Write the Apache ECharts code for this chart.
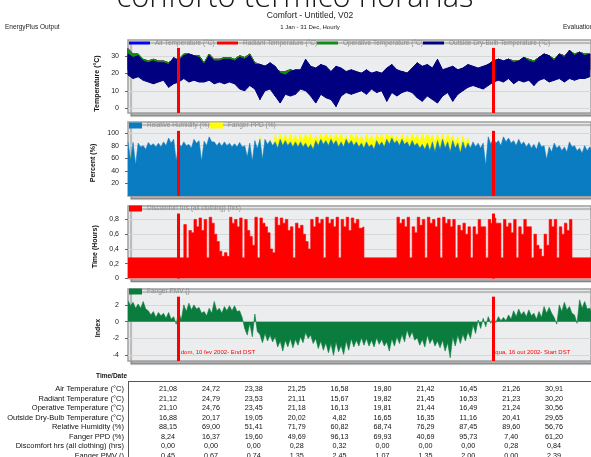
<!DOCTYPE html>
<html><head><meta charset="utf-8">
<script src="https://cdn.jsdelivr.net/npm/echarts@6/dist/echarts.min.js"></script>
<style>html,body{margin:0;padding:0;background:#fff;overflow:hidden}#c{width:591px;height:457px}</style>
</head><body><div id="c"></div>
<script>
// ---- data (4-day bins) ----
const binDays = 4;
const dstDays = [40, 288];
const dstLabels = ['dom, 10 fev 2002- End DST', 'qua, 16 out 2002- Start DST'];

// temperature bands: bin maximum / minimum (°C)
const tempOutHi = [31,29,30,27,26,27,26,26,25,29, 27,30,31,30,29,25,30,27,27,28, 28,27,29,28,30,25,25,24,26,24,
  20,19,21,22,22,28,24,23,25,24, 21,24,23,21,22,21,20,22,20,21, 20,23,25,22,21,20,23,26,24,25,
  23,28,22,23,24,22,23,25,24,23, 24,25,27,28,27,28,26,27,29,27, 26,29,31,30,27,31,29,33,30,32, 30,31];
const tempOutLo = [19,17,18,16,15,14,15,16,12,14, 15,17,15,16,15,15,16,14,15,14, 15,14,11,10,13,11,5,10,11,7,
  3,8,7,8,11,10,7,3,8,6, 5,1,7,9,8,9,10,8,11,9, 10,4,9,7,9,10,9,6,4,7,
  5,3,7,9,4,8,10,12,13,12, 11,13,15,16,15,17,14,16,15,16, 13,16,17,15,16,17,15,17,16,17, 17,18];
const tempOpHi = [34,31,31,28,27,28,27,27,26,28, 28,31,31,30,30,26,31,28,28,29, 29,28,30,29,31,26,25,24,25,22,
  21,21,22,21,21,23,22,21,22,21, 20,21,21,20,21,20,20,21,20,20, 20,22,23,21,21,20,22,23,22,23,
  22,24,21,22,22,22,22,23,23,22, 23,25,27,28,27,28,27,27,29,28, 27,29,31,30,28,31,30,33,31,32, 31,31];
const tempOpLo = [22,21,21,20,20,19,20,20,19,20, 20,21,21,21,21,20,21,20,20,20, 20,20,19,18,18,17,16,16,16,15,
  14,15,15,15,15,15,14,13,14,14, 13,12,14,15,14,15,15,14,15,15, 15,13,14,14,15,15,15,14,13,14,
  13,13,14,15,13,14,15,16,17,17, 16,17,19,20,20,21,20,20,21,20, 20,21,22,21,21,22,21,22,21,22, 22,22];

// relative humidity / PPD: crest and trough of the upper edge in each bin (%)
const rhHi = [86,85,84,80,85,83,84,86,92,90, 84,86,82,90,88,87,94,86,85,86, 84,83,85,80,84,88,90,90,88,86, 90,88,86,86,
  86,84,82,88,90,88,90,88,86,90, 88,86,84,86,82,88,86,90,92,88, 90,86,88,84,82,84,86,88,90,86, 88,84,86,84,
  86,84,84,94,92,88,94,92,88,90, 86,84,82,86,80,78,84,80,78,86, 80,76,80,78];
const rhLo = [57,49,78,74,80,78,78,80,84,55, 78,80,76,84,55,80,86,80,79,80, 78,78,78,62,55,75,58,82,80,76, 80,80,78,78,
  78,76,74,80,82,80,82,78,78,82, 80,78,76,78,74,80,78,82,84,80, 82,78,80,76,74,72,70,74,76,70, 76,68,74,76,
  78,76,48,82,84,80,86,84,80,82, 78,76,74,78,58,70,76,72,70,78, 72,68,72,70];
const ppdHi = [80,35,30,25,30,28,30,35,40,45, 30,25,28,30,35,40,30,25,35,30, 28,40,50,70,78,60,95,80,90,99, 100,98,99,97,
  98,99,100,97,99,100,98,100,99,97, 100,98,96,99,97,98,99,100,98,96, 99,97,100,98,99,100,97,99,98,100, 97,95,96,92,
  60,50,40,30,25,25,30,28,30,35, 30,35,40,38,45,76,50,55,50,60, 55,58,55,50];
const ppdLo = [60,10,8,8,9,8,10,12,10,15, 9,8,8,9,12,14,9,8,10,9, 8,12,15,35,40,30,50,45,60,85, 88,86,88,86,
  88,90,86,88,90,92,88,90,88,86, 90,88,84,88,86,90,88,92,90,86, 88,86,90,86,88,90,85,86,84,88, 82,80,82,76,
  30,20,12,10,8,8,9,8,10,12, 9,10,12,11,14,30,15,18,15,20, 16,18,15,14];

// discomfort hours: crest and trough in each bin (hrs)
const discHi = [0.28,0.28,0.28,0.28,0.28,0.28,0.28,0.28,0.28,0.28,0.28,
  0.73,0.65,0.8,0.82,0.8,0.83,0.6,0.37,0.35,0.83, 0.8,0.82,0.8,0.57,0.83,0.82,0.7,0.4,0.83,0.82,
  0.8,0.7,0.75,0.72,0.5,0.8,0.83,0.8,0.83,0.8, 0.83,0.8,0.83,0.82,0.8,0.7,
  0.28,0.28,0.28,0.28,0.28,0.28,
  0.83,0.8,0.83,0.7,0.83,0.8,0.83,0.8,0.82,0.83, 0.8,0.8,0.72,0.75,0.7,0.7,0.8,0.7,0.8,0.82,
  0.75,0.8,0.75,0.8,0.7,0.8,0.7,0.6,0.4,0.6, 0.8,0.8,0.7,0.75,0.8,
  0.28,0.28,0.28,0.28];
const discLo = [0.28,0.28,0.28,0.28,0.28,0.28,0.28,0.28,0.28,0.28,0.28,
  0.28,0.62,0.7,0.65,0.28,0.75,0.5,0.3,0.3,0.75, 0.7,0.28,0.65,0.45,0.28,0.75,0.62,0.35,0.72,0.75,
  0.65,0.28,0.68,0.6,0.4,0.7,0.75,0.28,0.75,0.7, 0.28,0.7,0.65,0.75,0.68,0.28,
  0.28,0.28,0.28,0.28,0.28,0.28,
  0.75,0.7,0.28,0.62,0.72,0.28,0.75,0.7,0.28,0.75, 0.7,0.28,0.65,0.6,0.28,0.6,0.7,0.28,0.75,0.75,
  0.28,0.7,0.62,0.28,0.6,0.7,0.28,0.45,0.3,0.45, 0.7,0.28,0.6,0.65,0.28,
  0.28,0.28,0.28,0.28];

// Fanger PMV: crest and trough of the outer edge in each bin
const pmvHi = [2.5,2.3,2.1,2.4,1.3,1.2,1.1,1.0,1.1,0.6, 1.2,2.0,2.2,2.0,1.7,1.2,1.6,2.4,1.6,1.8,
  1.9,1.9,1.3,-0.8,-0.2,0.9,-1.5,-1.4,-1.6,-1.8, -2.3,-2.2,-2.0,-2.1,
  -1.8,-1.3,-1.6,-2.0,-2.3,-2.5,-2.6,-2.4,-2.8,-2.3, -2.0,-2.2,-1.9,-2.0,-2.2,-1.9,-2.1,-2.4,-2.0,-1.8,
  -1.5,-1.0,-1.2,-1.9,-2.1,-1.6,-2.0,-2.3,-2.2,-2.5, -1.8,-1.6,-1.5,-1.2,-0.4,0.2,0.4,0.6,0.5,0.6,
  0.5,0.8,1.3,1.5,1.2,1.4,1.0,1.2,1.8,1.7, 0.5,2.0,2.3,1.8,0.8,2.6,2.4,1.6];
const pmvLo = [1.9,1.6,1.6,1.5,0.8,0.5,0.7,0.4,0.3,-0.3, 0.2,1.2,1.4,1.5,1.0,0.7,1.0,1.3,1.0,1.3,
  1.3,1.2,0.5,-1.6,-1.8,-1.2,-2.5,-2.3,-2.4,-3.0, -3.5,-3.0,-3.1,-2.8,
  -2.5,-2.0,-2.6,-3.2,-3.4,-3.7,-4.0,-3.6,-3.9,-3.4, -3.0,-2.9,-2.8,-2.9,-3.0,-2.7,-2.9,-3.5,-2.9,-2.6,
  -2.4,-1.9,-2.2,-2.8,-3.0,-2.6,-2.9,-3.1,-3.5,-4.3, -2.9,-2.6,-2.3,-2.0,-1.4,-0.8,-0.6,-0.2,-0.1,0.1,
  0.1,0.3,0.6,0.8,0.6,0.7,0.3,0.5,1.0,1.0, -0.3,1.2,1.4,1.0,-0.2,1.6,1.5,0.9];

const yTicks1 = [0,10,20,30];
const yTicks2 = [20,40,60,80,100];
const yTicks3 = [0,0.2,0.4,0.6,0.8];
const yTicks4 = [-4,-2,0,2];

const tableRowLabels = ['Air Temperature (°C)','Radiant Temperature (°C)','Operative Temperature (°C)',
  'Outside Dry-Bulb Temperature (°C)','Relative Humidity (%)','Fanger PPD (%)',
  'Discomfort hrs (all clothing) (hrs)','Fanger PMV ()'];
const tableValues = [
  ['21,08','24,72','23,38','21,25','16,58','19,80','21,42','16,45','21,26','30,91'],
  ['21,12','24,79','23,53','21,11','15,67','19,82','21,45','16,53','21,23','30,20'],
  ['21,10','24,76','23,45','21,18','16,13','19,81','21,44','16,49','21,24','30,56'],
  ['16,88','20,17','19,05','20,02','4,82','16,65','16,35','11,16','20,41','29,65'],
  ['88,15','69,00','51,41','71,79','60,82','68,74','76,29','87,45','89,60','56,76'],
  ['8,24','16,37','19,60','49,69','96,13','69,93','40,69','95,73','7,40','61,20'],
  ['0,00','0,00','0,00','0,28','0,32','0,00','0,00','0,00','0,28','0,84'],
  ['0,45','0,67','0,74','1,35','2,45','1,07','1,35','2,00','0,00','2,39']
];

// ---- helpers ----
function zigzag(hi, lo) {
  const pts = [];
  for (let i = 0; i < hi.length; i++) {
    pts.push([i * binDays, hi[i]]);
    pts.push([i * binDays + binDays / 2, lo[i]]);
  }
  return pts;
}
const FONT = '"Liberation Sans", Arial, sans-serif';

const panels = [
  {top: 40, height: 73, min: -2.7, max: 39, ticks: yTicks1, name: 'Temperature (°C)', pad: 14, dstTop: 34.5},
  {top: 122, height: 74, min: 0, max: 117.6, ticks: yTicks2, name: 'Percent (%)', pad: 8, dstTop: 103.5},
  {top: 206, height: 72.5, min: 0, max: 0.982, ticks: yTicks3, name: 'Time (Hours)', pad: 9, dstTop: 0.88},
  {top: 289, height: 72, min: -4.68, max: 3.89, ticks: yTicks4, name: 'Index', pad: 6, dstTop: 2.98}
];

const grid = panels.map(p => ({
  left: 128, width: 468, top: p.top, height: p.height, show: true,
  backgroundColor: '#ecedee', borderColor: '#9e9e9e', borderWidth: 1.5,
  shadowColor: 'rgba(0,0,0,0.3)', shadowBlur: 1, shadowOffsetX: 3, shadowOffsetY: 3
}));
const xAxis = panels.map((p, k) => ({gridIndex: k, type: 'value', min: 0, max: 365, show: false}));
const yAxis = panels.map((p, k) => ({
  gridIndex: k, type: 'value', min: p.min, max: p.max,
  name: p.name, nameLocation: 'middle', nameGap: 21,
  nameTextStyle: {fontSize: 7, fontWeight: 'bold', color: '#111', fontFamily: FONT, padding: [0, p.pad, 0, 0]},
  axisLine: {show: false},
  axisTick: {show: true, inside: false, length: 3, customValues: p.ticks, lineStyle: {color: '#666', width: 1}},
  axisLabel: {
    customValues: p.ticks, fontSize: 7, color: '#222', fontFamily: FONT, margin: 9,
    formatter: v => p.ticks.some(t => Math.abs(t - v) < 1e-6) ? String(+(+v).toFixed(2)).replace('.', ',') : ''
  },
  splitLine: {show: true, lineStyle: {color: '#d6d8d8', width: 1}}
}));

// band between bin minimum and bin maximum, drawn as quads through the axes' scales
function band(name, k, hi, lo, color, z) {
  const rows = [];
  for (let i = 0; i < hi.length - 1; i++) {
    rows.push([i * binDays, lo[i], hi[i], (i + 1) * binDays, lo[i + 1], hi[i + 1]]);
  }
  return {
    name, type: 'custom', xAxisIndex: k, yAxisIndex: k, data: rows, silent: true, z,
    encode: {x: [0, 3], y: [1, 2, 4, 5]},
    itemStyle: {color},
    renderItem: (params, api) => {
      const a = api.coord([api.value(0), api.value(2)]);
      const b = api.coord([api.value(3), api.value(5)]);
      const c = api.coord([api.value(3), api.value(4)]);
      const d = api.coord([api.value(0), api.value(1)]);
      return {type: 'polygon', shape: {points: [a, b, c, d]},
        style: {fill: color, stroke: color, lineWidth: 1}};
    }
  };
}
function areaSeries(name, k, data, color, z, extra) {
  return Object.assign({
    name, type: 'line', xAxisIndex: k, yAxisIndex: k, data, symbol: 'none', showSymbol: false, silent: true, z,
    lineStyle: {color, width: 0.6}, itemStyle: {color}, areaStyle: {color, opacity: 1}
  }, extra || {});
}

const series = [
  band('Air Temperature (°C)', 0, tempOpHi, tempOpLo, '#0000ff', 1),
  band('Radiant Temperature (°C)', 0, tempOpHi, tempOpLo, '#ff0000', 1.5),
  band('Operative Temperature (°C)', 0, tempOpHi, tempOpLo, '#128c16', 2),
  band('Outside Dry-Bulb Temperature (°C)', 0, tempOutHi, tempOutLo, '#000080', 3),
  areaSeries('Fanger PPD (%)', 1, zigzag(ppdHi, ppdLo), '#ffff00', 1),
  areaSeries('Relative Humidity (%)', 1, zigzag(rhHi, rhLo), '#0a7cc1', 2),
  areaSeries('Discomfort hrs (all clothing) (hrs)', 2, zigzag(discHi, discLo), '#ff0000', 2, {step: 'end'}),
  areaSeries('Fanger PMV ()', 3, zigzag(pmvHi, pmvLo), '#0a7d3e', 2)
];
panels.forEach((p, k) => {
  const s = {
    type: 'line', xAxisIndex: k, yAxisIndex: k, data: [], z: 5, silent: true,
    markLine: {
      symbol: 'none', silent: true, animation: false, label: {show: false},
      lineStyle: {color: '#ff0000', width: 3, type: 'solid'},
      data: dstDays.map(d => [{coord: [d, p.dstTop]}, {coord: [d, p.min]}])
    }
  };
  if (k === 3) {
    s.markPoint = {
      symbol: 'circle', symbolSize: 0, silent: true, animation: false,
      label: {show: true, position: 'right', distance: 2, color: '#ff0000', fontSize: 6, fontFamily: FONT,
        formatter: prm => prm.name},
      data: dstDays.map((d, i) => ({name: dstLabels[i], coord: [d, -3.7]}))
    };
  }
  series.push(s);
});

const legendDefs = [
  {name: 'Air Temperature (°C)', left: 129, top: 39.5, w: 21, h: 3},
  {name: 'Radiant Temperature (°C)', left: 217, top: 39.5, w: 21, h: 3},
  {name: 'Operative Temperature (°C)', left: 317, top: 39.5, w: 21, h: 3},
  {name: 'Outside Dry-Bulb Temperature (°C)', left: 423, top: 39.5, w: 21, h: 3},
  {name: 'Relative Humidity (%)', left: 129, top: 122, w: 13, h: 6},
  {name: 'Fanger PPD (%)', left: 210, top: 122, w: 13, h: 6},
  {name: 'Discomfort hrs (all clothing) (hrs)', left: 129, top: 205, w: 13, h: 6},
  {name: 'Fanger PMV ()', left: 129, top: 288, w: 13, h: 6}
];
const legend = legendDefs.map(l => ({
  data: [l.name], left: l.left, top: l.top, padding: 0, itemWidth: l.w, itemHeight: l.h,
  icon: 'rect', itemGap: 0, selectedMode: false, z: 10,
  textStyle: {fontSize: 6.5, color: '#8c8c8c', fontFamily: FONT}
}));

const graphic = [
  {type: 'text', x: 295, y: -2, style: {text: 'conforto térmico horárias', fontSize: 31, fontFamily: '"Open Sans", "Noto Sans", sans-serif', fontWeight: 300, fill: '#1a1a1a', align: 'center', verticalAlign: 'middle'}},
  {type: 'text', x: 310, y: 16, style: {text: 'Comfort - Untitled, V02', fontSize: 8.5, fontFamily: FONT, fill: '#222', align: 'center', verticalAlign: 'middle'}},
  {type: 'text', x: 310, y: 27, style: {text: '1 Jan - 31 Dec, Hourly', fontSize: 6, fontFamily: FONT, fill: '#222', align: 'center', verticalAlign: 'middle'}},
  {type: 'text', x: 5, y: 27, style: {text: 'EnergyPlus Output', fontSize: 6.5, fontFamily: FONT, fill: '#222', align: 'left', verticalAlign: 'middle'}},
  {type: 'text', x: 563, y: 27, style: {text: 'Evaluation Version', fontSize: 6.5, fontFamily: FONT, fill: '#222', align: 'left', verticalAlign: 'middle'}},
  {type: 'text', x: 127, y: 376, style: {text: 'Time/Date', fontSize: 6.5, fontWeight: 'bold', fontFamily: FONT, fill: '#111', align: 'right', verticalAlign: 'middle'}},
  {type: 'line', shape: {x1: 128, y1: 381.5, x2: 591, y2: 381.5}, style: {stroke: '#555', lineWidth: 1}},
  {type: 'line', shape: {x1: 128.5, y1: 381.5, x2: 128.5, y2: 457}, style: {stroke: '#555', lineWidth: 1}}
];
tableRowLabels.forEach((lab, r) => {
  const y = 389.3 + r * 9.49;
  graphic.push({type: 'text', x: 124, y, style: {text: lab, fontSize: 7.5, fontFamily: FONT, fill: '#111', align: 'right', verticalAlign: 'middle'}});
  tableValues[r].forEach((v, c) => {
    graphic.push({type: 'text', x: 168 + c * 42.9, y, style: {text: v, fontSize: 7.2, fontFamily: FONT, fill: '#111', align: 'center', verticalAlign: 'middle'}});
  });
});

const chart = echarts.init(document.getElementById('c'), null, {renderer: 'canvas'});
chart.setOption({animation: false, backgroundColor: '#fff', grid, xAxis, yAxis, series, legend, graphic});
</script></body></html>
